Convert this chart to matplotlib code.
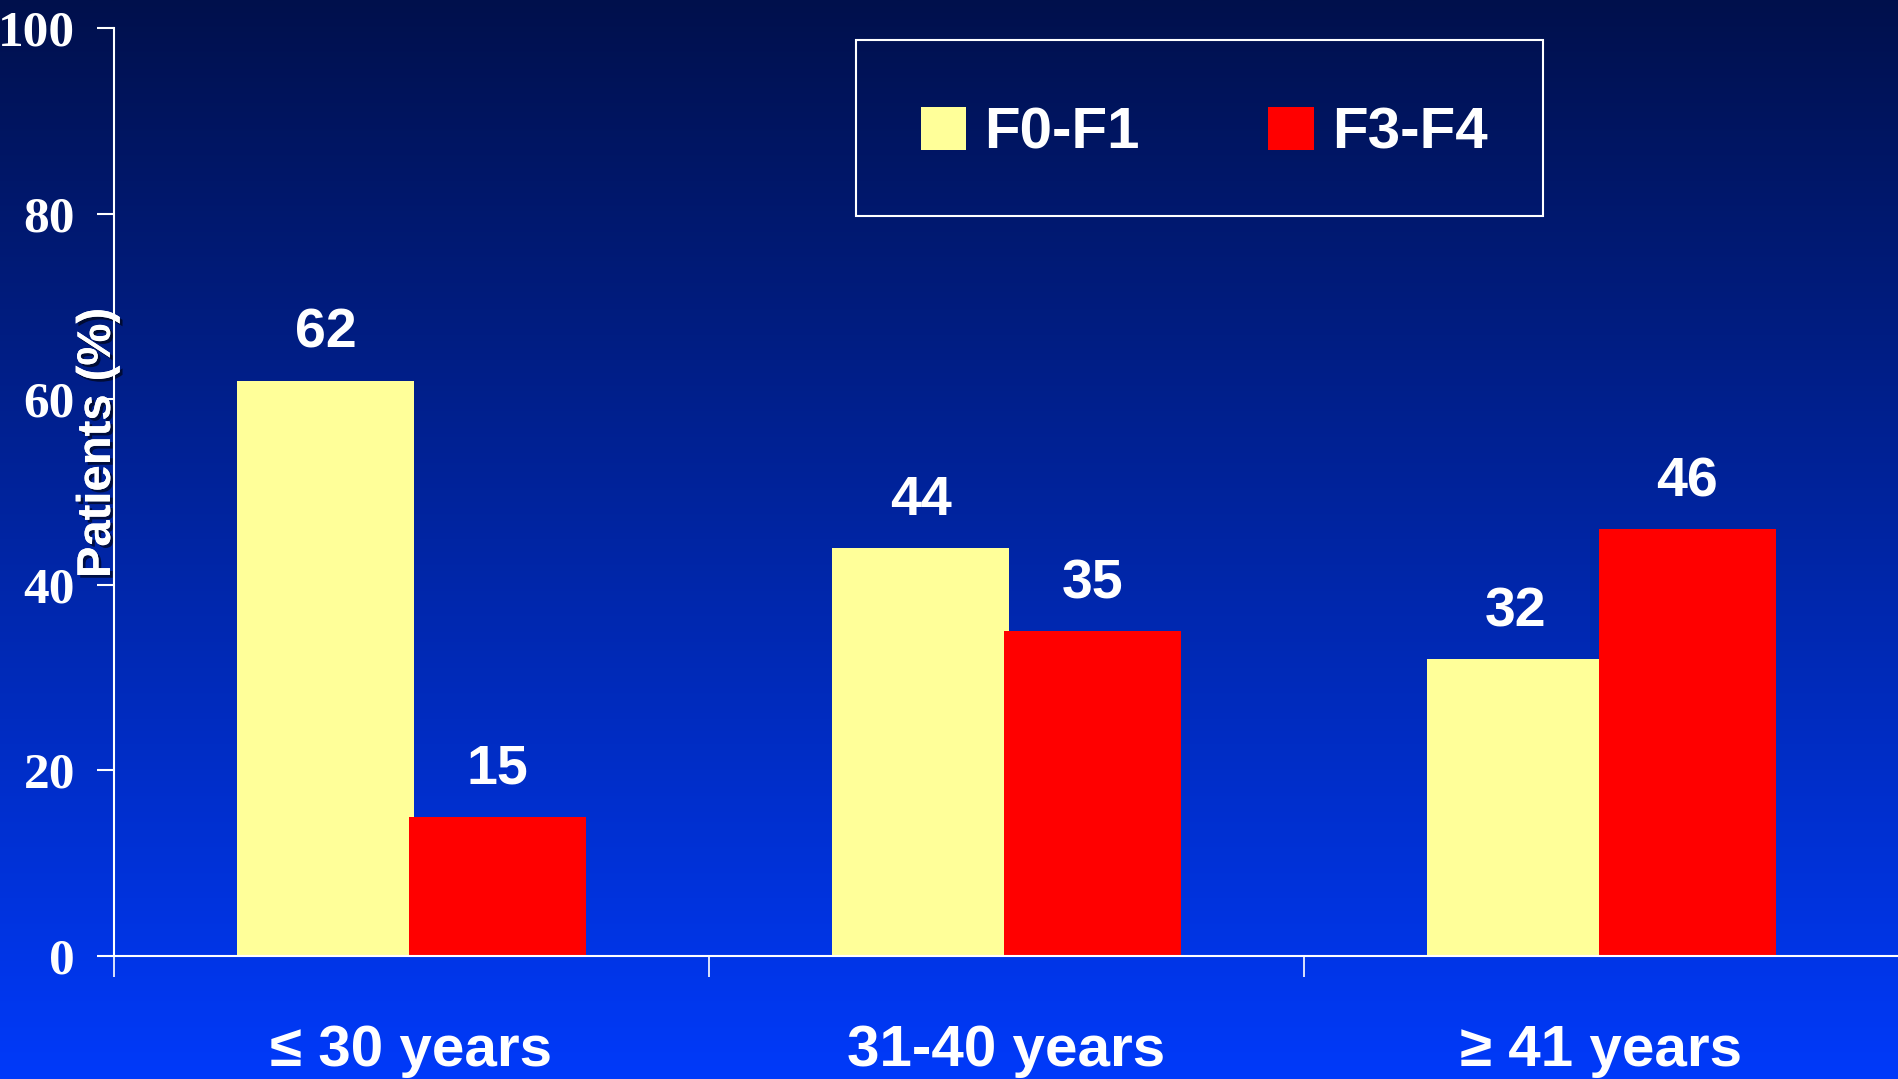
import numpy as np
import matplotlib.pyplot as plt
from matplotlib.patches import Rectangle
import matplotlib.patheffects as pe

# fibrosis stage by age group
groups = ['≤ 30 years', '31-40 years', '≥ 41 years']
f0_f1 = [62, 44, 32]
f3_f4 = [15, 35, 46]
series_names = ['F0-F1', 'F3-F4']
yticks = [0, 20, 40, 60, 80, 100]

sans = ['Liberation Sans', 'DejaVu Sans']
serif = ['Liberation Serif', 'DejaVu Serif']

fig = plt.figure(figsize=(18.99, 10.79), dpi=100)

# blue gradient backdrop, dark at the top
bg = fig.add_axes([0, 0, 1, 1], zorder=-10)
top = np.array([0, 16, 76]) / 255
bot = np.array([0, 58, 250]) / 255
t = np.linspace(0, 1, 512)[:, None]
grad = (top[None, :] * (1 - t) + bot[None, :] * t)[:, None, :]
bg.imshow(grad, aspect='auto', extent=[0, 1, 0, 1])
bg.axis('off')

ax = fig.add_axes([114 / 1899, 1 - 956 / 1079, 1 - 114 / 1899, (956 - 28) / 1079])
ax.patch.set_alpha(0)

x = np.arange(len(groups))
w = 0.296
off = 0.1445
b1 = ax.bar(x - off, f0_f1, w, color='#FFFF99', label=series_names[0])
b2 = ax.bar(x + off, f3_f4, w, color='#FF0000', label=series_names[1])

for bars, vals in [(b1, f0_f1), (b2, f3_f4)]:
    for r, v in zip(bars, vals):
        ax.annotate(str(v), (r.get_x() + r.get_width() / 2, v),
                    xytext=(0, 15), textcoords='offset points',
                    ha='center', va='bottom', color='white',
                    fontsize=40, fontweight='bold', family=sans)

ax.set_xlim(-0.5, 2.5)
ax.set_ylim(0, 100)

for s in ['top', 'right']:
    ax.spines[s].set_visible(False)
for s in ['left', 'bottom']:
    ax.spines[s].set_color('white')
    ax.spines[s].set_linewidth(1.5)

ax.set_yticks(yticks)
ax.set_yticklabels([str(v) for v in yticks], family=serif, fontweight='bold',
                   fontsize=37, color='white')
ax.tick_params(axis='y', direction='out', length=12, width=1.5, color='white', pad=16)

# group boundaries get the tick marks, labels sit at the centres
ax.set_xticks([-0.5, 0.5, 1.5])
ax.set_xticklabels([])
ax.tick_params(axis='x', which='major', direction='out', length=15, width=1.2, color='white')
ax.set_xticks(x, minor=True)
ax.set_xticklabels(groups, minor=True, family=sans, fontweight='bold',
                   fontsize=42, color='white')
ax.tick_params(axis='x', which='minor', length=0, pad=49)

ax.set_ylabel('Patients (%)', family=sans, fontweight='bold', fontsize=34, color='white',
              path_effects=[pe.withSimplePatchShadow(offset=(2, -2), shadow_rgbFace='black', alpha=0.6),
                            pe.Normal()])
ax.yaxis.label.set_verticalalignment('center')
ax.yaxis.set_label_coords(-0.009, 0.553)

# legend in an outlined box at the top
fig.add_artist(Rectangle((856 / 1899, 1 - 216 / 1079), 687 / 1899, 176 / 1079,
                         transform=fig.transFigure, fill=False, ec='white', lw=1.5))
leg = ax.legend(loc='center', bbox_to_anchor=(1204 / 1899, 1 - 134 / 1079),
                bbox_transform=fig.transFigure, ncol=2, frameon=False,
                prop={'family': sans, 'weight': 'bold', 'size': 42},
                handlelength=0.78, handleheight=0.76, handletextpad=0.31,
                columnspacing=2.2)
for txt in leg.get_texts():
    txt.set_color('white')

fig.savefig('out.png', dpi=100)
